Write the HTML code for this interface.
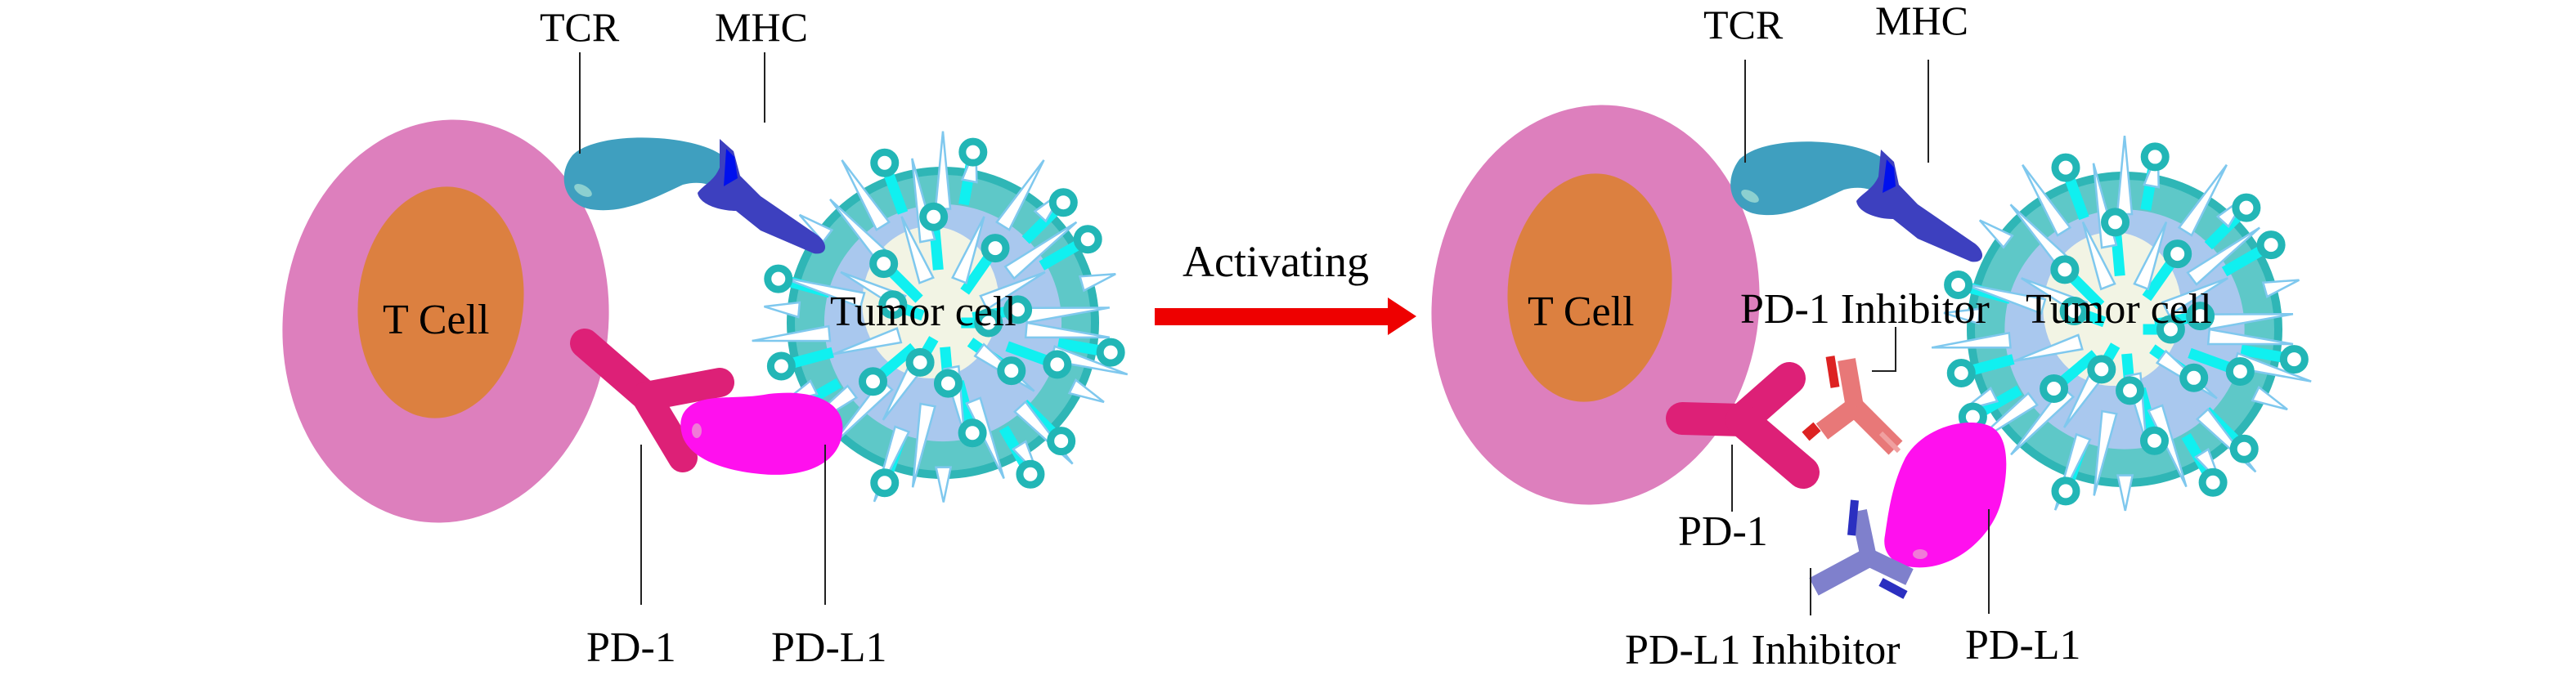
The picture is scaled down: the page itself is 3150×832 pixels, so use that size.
<!DOCTYPE html>
<html><head><meta charset="utf-8"><style>
html,body{margin:0;padding:0;background:#fff;}
svg{display:block;}
text{font-family:"Liberation Serif",serif;fill:#000;}
</style></head><body>
<svg id="s" width="3150" height="832" viewBox="0 0 3150 832" xmlns="http://www.w3.org/2000/svg">
<rect width="3150" height="832" fill="#fff"/>
<!-- LEFT PANEL -->
<ellipse cx="545" cy="393" rx="199" ry="247" fill="#dd7fbd" transform="rotate(6 545 393)"/>
<ellipse cx="539" cy="370" rx="101" ry="142" fill="#dc8040" transform="rotate(6 539 370)"/>
<text x="468" y="408" font-size="52">T Cell</text>
<g id="tumorL"></g>
<!-- TCR -->
<path d="M700 190 C730 160,840 163,880 188 C900 205,905 235,893 252 C885 232,865 218,835 226 C795 245,760 262,722 256 C690 250,680 215,700 190Z" fill="#3f9fbf"/>
<ellipse cx="713" cy="233" rx="12" ry="6" fill="#8cd0d0" transform="rotate(30 713 233)"/>
<!-- MHC -->
<path d="M880 170 L897 185 L905 215 L930 240 L1000 288 C1015 300,1010 313,995 310 L930 282 L900 258 C880 258,855 250,853 236 C860 226,873 222,880 205Z" fill="#3d40bf"/>
<path d="M888 182 L898 192 L902 218 L885 228 Z" fill="#0010ee"/>
<!-- PD-1 -->
<g stroke="#dd2077" stroke-width="36" stroke-linecap="round" fill="none">
<path d="M715 420 L790 485"/><path d="M790 485 L880 468"/><path d="M790 485 L835 560"/>
</g>
<!-- PD-L1 -->
<path d="M840 500 C860 480,900 490,940 482 C1000 475,1035 495,1030 530 C1025 570,980 585,930 580 C880 575,845 560,835 535 C830 520,832 508,840 500Z" fill="#ff10ee"/>
<ellipse cx="852" cy="527" rx="6" ry="9" fill="#f07ad8"/>
<g stroke="#222" stroke-width="2">
<line x1="709" y1="64" x2="709" y2="188"/>
<line x1="935" y1="64" x2="935" y2="150"/>
<line x1="784" y1="544" x2="784" y2="740"/>
<line x1="1009" y1="544" x2="1009" y2="740"/>
</g>
<text x="660" y="50" font-size="50">TCR</text>
<text x="874" y="50" font-size="50">MHC</text>
<text x="1015" y="398" font-size="52">Tumor cell</text>
<text x="717" y="809" font-size="52">PD-1</text>
<text x="943" y="809" font-size="52">PD-L1</text>
<!-- ARROW -->
<text x="1446" y="338" font-size="54">Activating</text>
<rect x="1412" y="377" width="290" height="21" fill="#ee0000"/>
<polygon points="1697,364 1732,387 1697,410" fill="#ee0000"/>
<!-- RIGHT PANEL -->
<ellipse cx="1951" cy="373" rx="200" ry="245" fill="#dd7fbd" transform="rotate(6 1951 373)"/>
<ellipse cx="1944" cy="352" rx="100" ry="140" fill="#dc8040" transform="rotate(6 1944 352)"/>
<text x="1868" y="398" font-size="52">T Cell</text>
<g id="tumorR"></g>
<path d="M2127 195 C2157 165,2260 168,2300 192 C2320 208,2326 240,2314 258 C2305 238,2285 224,2255 232 C2215 250,2185 268,2148 262 C2115 256,2107 222,2127 195Z" fill="#3f9fbf"/>
<ellipse cx="2140" cy="240" rx="12" ry="6" fill="#8cd0d0" transform="rotate(30 2140 240)"/>
<path d="M2300 183 L2316 198 L2322 226 L2345 250 L2415 298 C2430 310,2425 323,2410 320 L2345 292 L2315 268 C2295 268,2272 260,2270 246 C2277 236,2290 232,2297 216Z" fill="#3d40bf"/>
<path d="M2307 195 L2316 205 L2318 228 L2302 236 Z" fill="#0010ee"/>
<!-- PD-1 R -->
<g stroke="#dd2077" stroke-width="40" stroke-linecap="round" fill="none">
<path d="M2057 512 L2130 514"/><path d="M2130 514 L2188 463"/><path d="M2130 514 L2205 578"/>
</g>
<!-- red antibody -->
<g fill="none">
<path d="M2268 498 L2318 548" stroke="#e87878" stroke-width="24"/>
<path d="M2268 498 L2228 528" stroke="#e87878" stroke-width="24"/>
<path d="M2268 498 L2258 440" stroke="#e87878" stroke-width="22"/>
<path d="M2244 474 L2238 436" stroke="#dd2222" stroke-width="11"/>
<path d="M2222 522 L2208 534" stroke="#dd2222" stroke-width="14"/>
<path d="M2300 530 L2322 552" stroke="#f0a0a0" stroke-width="6"/>
</g>
<!-- PD-L1 R -->
<path d="M2330 560 C2350 525,2400 510,2430 520 C2460 530,2455 580,2448 610 C2440 650,2400 690,2355 694 C2320 697,2300 680,2305 655 C2310 620,2315 590,2330 560Z" fill="#ff10ee"/>
<ellipse cx="2348" cy="678" rx="9" ry="6" fill="#f07ad8"/>
<!-- blue antibody -->
<g fill="none">
<path d="M2285 682 L2218 718" stroke="#7f80cc" stroke-width="24"/>
<path d="M2285 682 L2335 706" stroke="#7f80cc" stroke-width="22"/>
<path d="M2285 682 L2273 625" stroke="#7f80cc" stroke-width="20"/>
<path d="M2264 655 L2268 612" stroke="#2b2fc0" stroke-width="10"/>
<path d="M2300 712 L2330 728" stroke="#2b2fc0" stroke-width="11"/>
</g>
<g stroke="#222" stroke-width="2" fill="none">
<line x1="2134" y1="73" x2="2134" y2="199"/>
<line x1="2358" y1="73" x2="2358" y2="199"/>
<polyline points="2318,400 2318,454 2289,454"/>
<line x1="2118" y1="544" x2="2118" y2="626"/>
<line x1="2214" y1="695" x2="2214" y2="753"/>
<line x1="2432" y1="623" x2="2432" y2="751"/>
</g>
<text x="2083" y="47" font-size="50">TCR</text>
<text x="2293" y="42" font-size="50">MHC</text>
<text x="2128" y="395" font-size="52">PD-1 Inhibitor</text>
<text x="2477" y="395" font-size="52">Tumor cell</text>
<text x="2052" y="667" font-size="52">PD-1</text>
<text x="1987" y="812" font-size="52">PD-L1 Inhibitor</text>
<text x="2403" y="806" font-size="52">PD-L1</text>
</svg>
<script>
(function(){
var NS="http://www.w3.org/2000/svg";
function el(t,a,p){var e=document.createElementNS(NS,t);for(var k in a)e.setAttribute(k,a[k]);p.appendChild(e);return e;}
function tumor(id,cx,cy,r){
 var g=document.getElementById(id);
 el("circle",{cx:cx,cy:cy,r:r,fill:"#5ec8c8",stroke:"#2fb6b6","stroke-width":10},g);
 el("circle",{cx:cx,cy:cy,r:r*0.78,fill:"#a9c8ee"},g);
 el("ellipse",{cx:cx-15,cy:cy-25,rx:r*0.45,ry:r*0.5,fill:"#f2f4e4"},g);
 var i,a,x1,y1,x2,y2;
 var knobs=[[10,1.12],[35,0.55],[60,1.15],[85,0.4],[110,1.12],[140,0.6],[165,1.1],[195,1.12],[225,0.55],[250,1.12],[280,1.14],[305,0.6],[330,1.1],[350,0.5],[0,0.3],[200,0.35],[120,0.3],[45,1.1],[75,0.75],[150,1.14],[265,0.7],[315,1.12],[20,0.8]];
 for(i=0;i<knobs.length;i++){
  a=knobs[i][0]*Math.PI/180; var kr=knobs[i][1]*r;
  var sr=Math.max(kr-r*0.35,kr*0.4);
  x1=cx+Math.cos(a)*sr;y1=cy+Math.sin(a)*sr;x2=cx+Math.cos(a)*kr;y2=cy+Math.sin(a)*kr;
  el("line",{x1:x1,y1:y1,x2:x2,y2:y2,stroke:"#10f0f0","stroke-width":13},g);
 }
 for(i=0;i<34;i++){
  a=(i*10.6+5)*Math.PI/180;
  var r0=r*(0.55+0.2*((i*7)%3)), r1=r*(1.1+0.08*((i*5)%3));
  if(i%4==3){r0=r*0.3;r1=r*0.75;}
  var px=-Math.sin(a),py=Math.cos(a),w=9;
  var bx=cx+Math.cos(a)*r0,by=cy+Math.sin(a)*r0;
  var tx=cx+Math.cos(a)*r1,ty=cy+Math.sin(a)*r1;
  el("polygon",{points:(bx+px*w)+","+(by+py*w)+" "+(bx-px*w)+","+(by-py*w)+" "+tx+","+ty,fill:"#ffffff",stroke:"#7fc8ee","stroke-width":2.5},g);
 }
 for(i=0;i<knobs.length;i++){
  a=knobs[i][0]*Math.PI/180; var kr2=knobs[i][1]*r;
  el("circle",{cx:cx+Math.cos(a)*kr2,cy:cy+Math.sin(a)*kr2,r:13,fill:"#fff",stroke:"#22b6b6","stroke-width":9},g);
 }
}
tumor("tumorL",1153,395,186);
tumor("tumorR",2598,403,188);
})();
</script>
</body></html>
